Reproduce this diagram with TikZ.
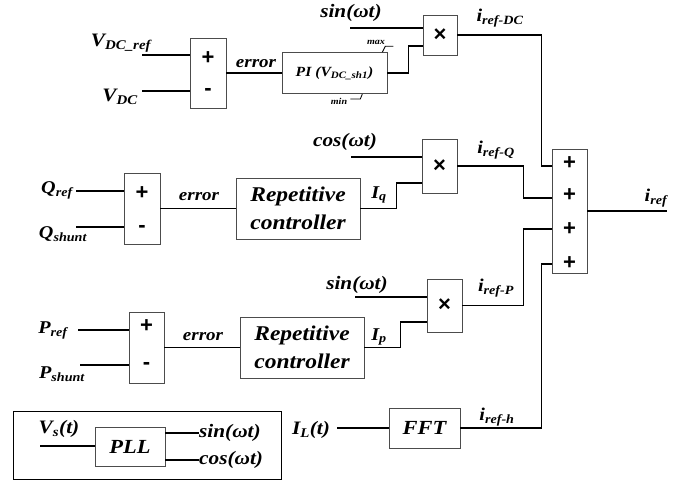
\documentclass[tikz,border=0pt]{standalone}
\usepackage{fontspec}
\setmainfont{Liberation Serif}[FakeStretch=1.12]
\setsansfont{Liberation Sans}
\usepackage{tikz}
\usetikzlibrary{positioning}

\begin{document}
\begin{tikzpicture}[x=1pt, y=-1pt]
        \tikzset{
            every node/.style={
                align=center,
                text centered,
            },
            blk/.style={draw=black!70, line width=.7pt, rectangle, inner sep=0pt},
            wire/.style={line width=1.1pt},
            sgn/.style={font=\sffamily\bfseries\fontsize{22}{22}\selectfont, inner sep=0pt},
            lbl/.style={inner sep=0pt, font=\bfseries\itshape\fontsize{#1}{#1}\selectfont},
            lbl/.default=19,
            txt/.style={font=\bfseries\itshape\fontsize{#1}{28}\selectfont},
        }
        \useasboundingbox (0,0) rectangle (689,480);

        % summing node for all references
        \node[blk, minimum width=35pt, minimum height=124pt] (sumall) at (569.5,211) {};
        \foreach \k/\yy in {1/163,2/195,3/229,4/263}
            \node[sgn] (sumall-\k) at (569.5,\yy) {+};
        \coordinate (irefout) at (667,211);
        \draw[wire] (sumall.east) -- (irefout);
        \node[lbl=18] (iref) at (656,198) {i\textsubscript{ref}};

        % DC-link loop
        \node[blk, minimum width=36pt, minimum height=70pt] (sumdc) at (208,73) {};
        \node[sgn] (sumdc-a) at (208,58) {+};
        \node[sgn] (sumdc-b) at (208,92) {-};
        \node[lbl] (vdcref) at (121,43) {V\textsubscript{DC\_ref}};
        \coordinate (vdcrefin) at (142,55);
        \draw[wire] (vdcrefin) -- (vdcrefin -| sumdc.west);
        \node[lbl] (vdc) at (120,97) {V\textsubscript{DC}};
        \coordinate (vdcin) at (142,91);
        \draw[wire] (vdcin) -- (vdcin -| sumdc.west);
        \node[blk, minimum width=105pt, minimum height=41pt, txt=14] (pi) at (334.5,73) {PI (V\textsubscript{DC\_sh1})};
        \draw[wire] (sumdc) -- (pi);
        \node[lbl=17] (errdc) at (256,64) {error};
        \node[lbl=9] (mx) at (376,42) {max};
        \draw[line width=.8pt] ([xshift=-5pt]pi.north east) -- ++(3,-6) -- ++(8,0);
        \node[lbl=9] (mn) at (339,101) {min};
        \draw[line width=.8pt] ([shift={(3,-2)}]mn.east) -- ++(10,0) -- ++(2,-5);
        \node[blk, minimum width=34pt, minimum height=40pt, sgn] (muldc) at (440,35) {×};
        \draw[wire] (pi.east) -- ++(21,0) |- ([yshift=-11pt]muldc.west);
        \node[lbl] (sindc) at (351,13) {sin(ωt)};
        \coordinate (sindcin) at (350,28);
        \draw[wire] (sindcin) -- (sindcin -| muldc.west);
        \node[lbl=18] (irefdc) at (500,18) {i\textsubscript{ref-DC}};
        \draw[wire] (muldc.east) -| ([xshift=-10pt, yshift=45pt]sumall.west) -- ([yshift=45pt]sumall.west);

        % reactive power loop
        \node[blk, minimum width=36pt, minimum height=71pt] (sumq) at (142,208.5) {};
        \node[sgn] (sumq-a) at (142,193) {+};
        \node[sgn] (sumq-b) at (142,229) {-};
        \node[lbl=18] (qref) at (57,190) {Q\textsubscript{ref}};
        \coordinate (qrefin) at (76,191);
        \draw[wire] (qrefin) -- (qrefin -| sumq.west);
        \node[lbl=18] (qsh) at (63,234) {Q\textsubscript{shunt}};
        \coordinate (qshin) at (76,227);
        \draw[wire] (qshin) -- (qshin -| sumq.west);
        \node[blk, minimum width=124pt, minimum height=61pt, txt=21] (repq) at (298,208.5) {Repetitive\\controller};
        \draw[wire] (sumq) -- (repq);
        \node[lbl=17] (errq) at (199,197) {error};
        \node[blk, minimum width=35pt, minimum height=54pt, sgn] (mulq) at (439.5,166) {×};
        \draw[wire] (repq.east) -- ++(36,0) |- ([yshift=-17pt]mulq.west);
        \node[lbl=18] (iq) at (379,195) {I\textsubscript{q}};
        \node[lbl] (cosq) at (345,142) {cos(ωt)};
        \coordinate (cosqin) at (351,157);
        \draw[wire] (cosqin) -- (cosqin -| mulq.west);
        \node[lbl=18] (irefq) at (496,150) {i\textsubscript{ref-Q}};
        \draw[wire] (mulq.east) -| ([xshift=-28pt, yshift=13pt]sumall.west) -- ([yshift=13pt]sumall.west);

        % active power loop
        \node[blk, minimum width=35pt, minimum height=71pt] (sump) at (146.5,347.5) {};
        \node[sgn] (sump-a) at (146.5,326) {+};
        \node[sgn] (sump-b) at (146.5,366) {-};
        \node[lbl=18] (pref) at (53,330) {P\textsubscript{ref}};
        \coordinate (prefin) at (78,330);
        \draw[wire] (prefin) -- (prefin -| sump.west);
        \node[lbl=18] (psh) at (62,374) {P\textsubscript{shunt}};
        \coordinate (pshin) at (80,365);
        \draw[wire] (pshin) -- (pshin -| sump.west);
        \node[blk, minimum width=124pt, minimum height=61pt, txt=21] (repp) at (302,347.5) {Repetitive\\controller};
        \draw[wire] (sump) -- (repp);
        \node[lbl=17] (errp) at (203,337) {error};
        \node[blk, minimum width=35pt, minimum height=53pt, sgn] (mulp) at (444.5,305.5) {×};
        \draw[wire] (repp.east) -- ++(36,0) |- ([yshift=-16.5pt]mulp.west);
        \node[lbl=18] (ip) at (379,337) {I\textsubscript{p}};
        \node[lbl] (sinp) at (357,285) {sin(ωt)};
        \coordinate (sinpin) at (355,297);
        \draw[wire] (sinpin) -- (sinpin -| mulp.west);
        \node[lbl=18] (irefp) at (496,288) {i\textsubscript{ref-P}};
        \draw[wire] (mulp.east) -| ([xshift=-28pt, yshift=-18pt]sumall.west) -- ([yshift=-18pt]sumall.west);

        % harmonics
        \node[blk, minimum width=71pt, minimum height=40pt, txt=20] (fft) at (424.5,428) {FFT};
        \node[lbl] (il) at (311,430) {I\textsubscript{L}(t)};
        \coordinate (ilin) at (337,428);
        \draw[wire] (ilin) -- (fft.west);
        \node[lbl=18] (irefh) at (497,417) {i\textsubscript{ref-h}};
        \draw[wire] (fft.east) -| ([xshift=-10pt, yshift=-53pt]sumall.west) -- ([yshift=-53pt]sumall.west);

        % PLL
        \node[draw, line width=.8pt, minimum width=268pt, minimum height=68pt] (frame) at (147,445) {};
        \node[blk, minimum width=70pt, minimum height=39pt, txt=20] (pll) at (130,446.5) {PLL};
        \node[lbl] (vs) at (59,429) {V\textsubscript{s}(t)};
        \coordinate (vsin) at (40,446);
        \draw[wire] (vsin) -- (vsin -| pll.west);
        \node[lbl, anchor=west] (pllsin) at (199,433) {sin(ωt)};
        \node[lbl, anchor=west] (pllcos) at (199,460) {cos(ωt)};
        \draw[wire] (pllsin.west -| pll.east) -- (pllsin.west);
        \draw[wire] (pllcos.west -| pll.east) -- (pllcos.west);
    \end{tikzpicture}
\end{document}
